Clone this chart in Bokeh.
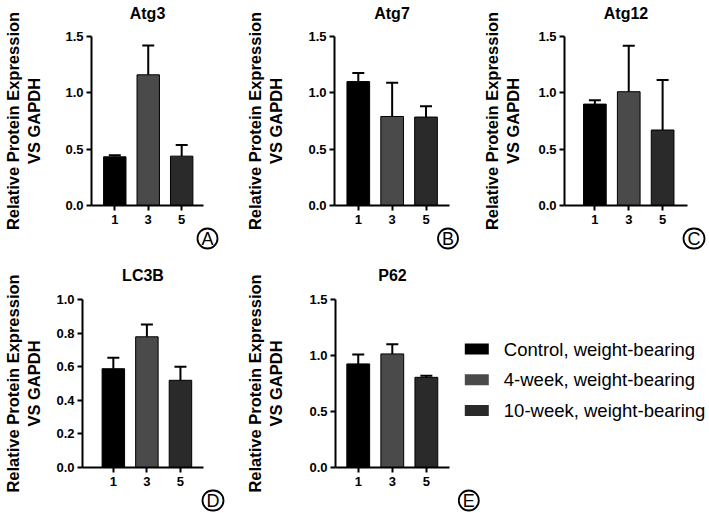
from bokeh.plotting import figure
from bokeh.layouts import row, column
from bokeh.models import (ColumnDataSource, FixedTicker, Whisker, TeeHead, Label, Title,
                          Range1d, PrintfTickFormatter, LinearAxis)
from bokeh.embed import file_html
from bokeh.resources import INLINE
from bokeh.core.properties import value

FONT = "Liberation Sans"

# ---------------- data ----------------
groups = ["1", "3", "5"]
series_names = ["Control, weight-bearing", "4-week, weight-bearing", "10-week, weight-bearing"]
bar_colors = ["#000000", "#4a4a4a", "#2a2a2a"]

atg3_mean = [0.432, 1.16, 0.438]
atg3_err = [0.015, 0.26, 0.098]
atg7_mean = [1.10, 0.79, 0.785]
atg7_err = [0.075, 0.30, 0.095]
atg12_mean = [0.90, 1.01, 0.67]
atg12_err = [0.035, 0.407, 0.445]
lc3b_mean = [0.588, 0.778, 0.519]
lc3b_err = [0.066, 0.073, 0.081]
p62_mean = [0.925, 1.014, 0.805]
p62_err = [0.085, 0.086, 0.015]

y_ticks_main = [0.0, 0.5, 1.0, 1.5]
y_ticks_lc3b = [0.0, 0.2, 0.4, 0.6, 0.8, 1.0]
y_label = "Relative Protein Expression\nVS GAPDH"
panel_letters = ["A", "B", "C", "D", "E"]

CIRCLE_STYLE = dict(text_font=FONT, text_font_size="18px", text_color="black",
                    border_line_color="black", border_line_width=1.8,
                    background_fill_color="white",
                    padding=dict(left=4, right=4, top=0, bottom=0), border_radius=10)


def circle_title(letter, offset):
    # circled panel letter placed under the x axis, right-aligned to the frame
    return Title(text=letter, align="right", offset=offset, standoff=0,
                 text_font_style="normal", **CIRCLE_STYLE)


def make_panel(title, means, errs, yticks, cfg):
    xs = [i + 1 for i in range(len(groups))]
    src = ColumnDataSource(dict(x=xs, mean=means,
                                top=[m + e for m, e in zip(means, errs)],
                                color=bar_colors))
    p = figure(width=cfg["w"], height=cfg["h"],
               x_range=Range1d(*cfg["xr"]), y_range=Range1d(yticks[0], yticks[-1]),
               output_backend="svg", toolbar_location=None,
               min_border_left=cfg["bl"], min_border_right=cfg["w"] - cfg["bl"] - cfg["fw"],
               min_border_top=cfg["bt"], min_border_bottom=cfg["h"] - cfg["bt"] - cfg["fh"])
    p.vbar(x="x", top="mean", width=0.67, fill_color="color", line_color="#000000",
           line_width=1, source=src)
    p.add_layout(Whisker(source=src, base="x", lower="mean", upper="top", dimension="height",
                         line_width=2, line_color="black",
                         upper_head=TeeHead(size=12, line_width=2, line_color="black"),
                         lower_head=None))
    p.xgrid.visible = False
    p.ygrid.visible = False
    p.outline_line_color = None
    p.background_fill_color = "white"
    p.border_fill_color = "white"

    bax = p.below[0]
    lax = p.left[0]

    # panel title drawn as the label of an empty top axis
    tax = LinearAxis(ticker=FixedTicker(ticks=[]), axis_line_color=None,
                     major_tick_line_color=None, minor_tick_line_color=None,
                     major_tick_out=0, major_tick_in=0, minor_tick_out=0, minor_tick_in=0,
                     axis_label=title, axis_label_text_font=FONT,
                     axis_label_text_font_size="16px", axis_label_text_font_style="bold",
                     axis_label_text_color="black", axis_label_standoff=cfg["ts"])
    p.add_layout(tax, "above")

    bax.ticker = FixedTicker(ticks=xs)
    bax.major_label_overrides = {x: g for x, g in zip(xs, groups)}
    lax.ticker = FixedTicker(ticks=yticks)
    lax.formatter = PrintfTickFormatter(format="%.1f")
    for ax in (bax, lax):
        ax.axis_line_width = 2
        ax.axis_line_color = "black"
        ax.major_tick_line_width = 2
        ax.major_tick_line_color = "black"
        ax.major_tick_out = 5
        ax.major_tick_in = 0
        ax.minor_tick_line_color = None
        ax.major_label_standoff = 3
        ax.major_label_text_font = FONT
        ax.major_label_text_font_size = "13px"
        ax.major_label_text_font_style = "bold"
        ax.major_label_text_color = "black"
    bax.major_label_standoff = 4
    lax.axis_label = y_label
    lax.axis_label_text_font = FONT
    lax.axis_label_text_font_size = "16.5px"
    lax.axis_label_text_font_style = "bold"
    lax.axis_label_text_color = "black"
    lax.axis_label_standoff = cfg["ls"]
    if cfg.get("co") is not None:
        p.add_layout(circle_title(cfg["letter"], cfg["co"]), "below")
    return p


TOP_H, BOT_H = 251, 261
cfgA = dict(w=236, h=TOP_H, bl=90, fw=113, bt=36, fh=169, xr=(0.304, 3.652), ls=19, ts=15,
            letter=panel_letters[0], co=-14)
cfgB = dict(w=230, h=TOP_H, bl=98, fw=115, bt=36, fh=169, xr=(0.297, 3.694), ls=20, ts=15,
            letter=panel_letters[1], co=-8.5)
cfgC = dict(w=242, h=TOP_H, bl=98, fw=123, bt=36, fh=169, xr=(0.103, 3.735), ls=13, ts=15,
            letter=panel_letters[2], co=-17)
cfgD = dict(w=236, h=BOT_H, bl=81, fw=122, bt=48, fh=168, xr=(0.081, 3.687), ls=10, ts=16,
            letter=panel_letters[3], co=-20)
cfgE = dict(w=216, h=BOT_H, bl=99, fw=114, bt=48, fh=168, xr=(0.332, 3.68), ls=21, ts=16,
            letter=panel_letters[4], co=None)

pA = make_panel("Atg3", atg3_mean, atg3_err, y_ticks_main, cfgA)
pB = make_panel("Atg7", atg7_mean, atg7_err, y_ticks_main, cfgB)
pC = make_panel("Atg12", atg12_mean, atg12_err, y_ticks_main, cfgC)
pD = make_panel("LC3B", lc3b_mean, lc3b_err, y_ticks_lc3b, cfgD)
pE = make_panel("P62", p62_mean, p62_err, y_ticks_main, cfgE)

# ---------------- legend panel ----------------
LW = 256
row_px = 30.75
ymin = -57.0 / row_px
pL = figure(width=LW, height=BOT_H, x_range=Range1d(0, LW),
            y_range=Range1d(ymin, ymin + 168 / row_px),
            output_backend="svg", toolbar_location=None, x_axis_type=None, y_axis_type=None,
            min_border_left=0, min_border_right=0, min_border_top=48,
            min_border_bottom=BOT_H - 48 - 168)
pL.xgrid.visible = False
pL.ygrid.visible = False
pL.outline_line_color = None
ys = list(range(len(series_names)))[::-1]
pL.rect(x=[24.3] * len(ys), y=ys, width=24, height=11, width_units="screen",
        height_units="screen", fill_color=bar_colors, line_color=None)
pL.text(x=[51.3] * len(ys), y=ys, text=series_names, text_font=value(FONT),
        text_font_size=value("18.5px"), text_baseline="middle", text_align="left",
        text_color="black")
# circled letter of panel E, placed in the space below the legend
pL.add_layout(Label(x=16.3, y=-13, x_units="screen", y_units="screen", text=panel_letters[4],
                    text_align="center", text_baseline="middle", **CIRCLE_STYLE), "below")

layout = column(row(pA, pB, pC), row(pD, pE, pL))
open("out.html", "w").write(file_html(layout, INLINE))
